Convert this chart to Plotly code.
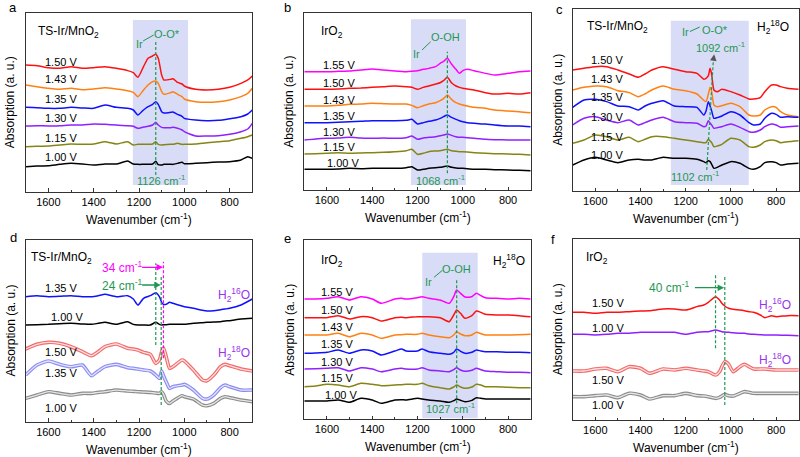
import plotly.graph_objects as go

# ---------------- DATA (wavenumber in cm-1, absorption in arbitrary units incl. offsets) -------------
# Panel a: TS-Ir/MnO2, H2(16)O
a_wn = [1700,1650,1600,1550,1500,1450,1400,1350,1300,1250,1225,1205,1180,1160,1140,1126,1115,1100,1090,1060,1050,1030,1010,1000,950,900,850,800,750,720,700]
a_150 = [380,378,372,370,375,370,372,375,370,363,357,343,375,400,407,412,400,350,335,337,339,328,323,317,307,305,307,313,325,335,347]
a_143 = [320,315,310,307,310,306,308,312,308,303,298,285,305,320,330,332,325,300,292,297,300,292,285,278,270,268,270,275,285,295,310]
a_135 = [253,252,250,250,253,251,250,260,253,250,245,230,245,255,262,270,262,240,236,238,239,232,226,220,215,213,214,219,225,233,245]
a_130 = [197,198,197,198,200,200,203,202,200,198,196,190,194,196,200,208,200,193,192,192,193,190,185,180,167,167,168,172,180,188,205]
a_115 = [135,136,137,140,143,142,143,150,143,150,140,142,142,142,143,150,142,140,141,142,142,145,142,142,143,147,150,153,160,165,170]
a_100 = [75,77,78,82,85,83,80,83,83,92,83,82,82,82,83,91,81,80,82,82,82,85,88,84,85,87,89,90,95,105,100]

# Panel b: IrO2, H2(16)O
b_wn = [1700,1650,1600,1550,1500,1450,1400,1350,1300,1250,1225,1200,1175,1150,1120,1100,1085,1068,1050,1030,1015,1000,980,950,900,860,800,750,700]
b_155 = [355,355,355,356,357,360,363,360,357,355,356,358,362,365,370,380,386,395,378,362,350,358,362,358,350,345,350,355,357]
b_150 = [302,302,302,303,305,306,308,310,312,310,308,302,308,312,318,322,328,338,322,312,308,305,303,300,292,288,290,288,292]
b_143 = [252,252,252,254,257,258,260,259,258,258,254,247,253,258,262,268,274,285,272,262,258,255,252,248,245,240,237,235,232]
b_135 = [202,202,202,203,205,206,208,208,208,209,212,198,202,206,210,215,220,225,218,212,208,205,202,200,198,195,192,192,190]
b_130 = [150,153,155,156,158,156,155,156,155,157,162,152,156,158,160,163,165,168,164,160,158,158,157,155,152,151,150,150,150]
b_115 = [108,109,110,112,110,111,112,113,115,118,122,107,110,115,117,118,120,122,118,116,115,115,114,112,110,109,108,107,105]
b_100 = [62,62,62,63,65,64,65,65,65,67,70,60,62,65,67,68,70,72,68,66,65,65,64,62,62,61,60,59,58]

# Panel c: TS-Ir/MnO2, H2(18)O
c_wn = [1700,1650,1600,1550,1500,1450,1410,1380,1350,1300,1250,1200,1150,1120,1110,1100,1092,1085,1075,1060,1040,1000,960,920,900,870,850,820,800,780,750,700]
c_150 = [363,368,373,373,363,351,341,351,363,373,365,358,353,335,338,345,368,350,303,298,305,298,288,276,276,280,298,318,318,313,308,305]
c_143 = [303,311,315,313,301,295,283,291,303,315,305,301,291,272,268,290,311,298,258,253,256,263,253,228,225,228,243,253,251,238,228,223]
c_135 = [251,273,275,268,255,253,243,255,263,271,255,253,251,228,240,268,255,240,218,220,225,238,228,205,198,201,218,233,230,221,223,221]
c_130 = [198,218,223,213,205,213,198,205,213,221,208,205,203,193,195,211,203,198,188,190,193,201,191,178,176,183,193,201,198,191,193,195]
c_115 = [143,153,168,163,153,161,148,155,163,163,158,153,148,145,145,155,150,145,133,135,140,158,153,133,131,138,148,153,151,145,148,151]
c_100 = [78,93,101,93,85,93,95,93,93,101,98,98,95,88,85,91,88,80,68,71,78,88,83,68,65,73,85,88,85,78,81,83]

# Panel d: TS-Ir/MnO2, H2(16)O vs H2(18)O
d_wn = [1700,1650,1600,1550,1500,1450,1410,1380,1350,1300,1250,1225,1205,1180,1150,1126,1110,1100,1092,1080,1065,1050,1010,1000,960,920,900,870,840,820,800,750,700]
d16_135 = [375,378,375,376,378,375,375,378,382,375,378,368,350,370,378,387,375,358,352,352,358,355,347,345,340,334,332,333,336,338,340,350,368]
d16_100 = [290,291,292,294,295,293,292,295,298,292,300,292,290,290,290,298,292,290,291,291,292,292,292,292,295,297,298,299,300,302,303,308,310]
d18_150 = [218,232,238,235,225,210,198,210,225,233,220,218,215,208,202,175,185,210,222,195,160,165,185,182,155,125,123,140,165,172,168,158,152]
d18_135 = [140,170,182,172,165,170,138,152,165,172,162,160,158,155,152,140,130,152,138,120,100,105,110,112,95,70,68,80,102,110,105,95,95]
d18_100 = [70,80,90,85,80,85,85,88,90,95,92,91,90,89,88,86,85,90,82,62,55,62,78,75,68,50,48,55,70,75,72,65,60]

# Panel e: IrO2, H2(18)O
e_wn = [1700,1650,1600,1550,1500,1450,1400,1360,1300,1270,1250,1200,1180,1150,1100,1060,1040,1027,1010,990,960,940,920,900,850,800,750,700]
e_155 = [360,360,362,367,357,367,360,347,360,362,360,364,367,362,357,347,367,387,377,366,367,377,370,364,362,360,362,360]
e_150 = [304,304,304,310,300,307,304,294,304,305,304,307,307,307,304,292,312,327,317,302,310,324,320,314,312,312,310,307]
e_143 = [252,252,252,257,247,257,252,242,252,253,254,254,257,252,247,244,252,262,255,250,252,260,256,252,252,252,253,254]
e_135 = [197,198,200,207,197,207,204,192,204,210,204,204,210,202,197,194,200,210,203,197,200,207,204,202,202,200,200,199]
e_130 = [150,151,152,154,144,154,150,142,150,152,150,150,154,147,144,142,148,154,147,143,146,152,148,144,142,140,140,139]
e_115 = [97,99,104,102,97,107,104,100,102,103,104,104,107,100,94,90,96,102,96,92,96,104,102,97,97,95,94,94]
e_100 = [54,54,54,57,50,62,57,47,57,58,57,62,60,57,54,50,55,60,56,52,56,64,62,60,60,60,60,60]

# Panel f: IrO2, H2(16)O vs H2(18)O
f_wn = [1700,1650,1600,1550,1500,1450,1400,1360,1300,1250,1200,1150,1120,1100,1068,1050,1040,1027,1010,990,960,940,920,900,870,850,820,800,750,700]
f16_150 = [323,323,320,323,323,325,327,328,333,333,330,340,345,353,370,360,350,342,335,332,330,328,325,323,315,307,313,310,313,313]
f16_100 = [257,257,255,257,260,260,263,263,263,263,257,263,265,265,270,267,265,264,263,262,260,260,258,257,256,255,255,255,254,253]
f18_150 = [147,147,153,155,145,160,155,140,153,150,155,150,147,145,135,145,160,175,167,145,160,167,160,153,153,153,151,150,150,150]
f18_100 = [70,70,73,75,67,80,75,63,73,73,80,73,72,70,65,68,72,77,73,72,80,85,83,80,80,80,80,80,80,80]

x_ticks = [1600, 1400, 1200, 1000, 800]
x_tick_labels = ["1600", "1400", "1200", "1000", "800"]

# ---------------- STYLE ----------------
W, H = 800, 457
FONT = "Liberation Sans, Arial, sans-serif"
RED, ORANGE, BLUE, PURPLE, OLIVE, BLACK, MAGENTA = "#ff1010", "#ff8010", "#1010ff", "#9020ff", "#858515", "#000000", "#ff00ff"
GREEN = "#1e9850"
LBL_PURPLE = "#9933ee"
SHADE = "#d9dcf7"

# panel geometry (px): left, right, top, bottom, y-range top
GEOM = {
    1: (25.7, 252.3, 13.3, 191.7, 535),
    2: (304.3, 530.7, 12.7, 190.0, 532),
    3: (572.7, 798.7, 9.3, 191.0, 545),
    4: (25.7, 252.3, 240.0, 421.7, 545),
    5: (304.3, 530.7, 240.0, 419.0, 537),
    6: (572.7, 798.7, 239.3, 420.0, 542),
}

fig = go.Figure()
annotations = []
shapes = []


def ax(n, kind):
    return kind if n == 1 else f"{kind}{n}"


def add_line(n, wn, y, color, width=1.5):
    fig.add_trace(go.Scatter(x=wn, y=y, mode="lines", xaxis=ax(n, "x"), yaxis=ax(n, "y"),
                             line=dict(color=color, width=width, shape="spline", smoothing=0.6),
                             hoverinfo="skip", showlegend=False))


def add_ring(n, wn, y, color, inner):
    add_line(n, wn, y, color, 3.6)
    add_line(n, wn, y, inner, 1.3)


def txt(n, x, y, text, color="black", size=11, xanchor="center", yanchor="middle"):
    annotations.append(dict(x=x, y=y, xref=ax(n, "x"), yref=ax(n, "y"), text=text, showarrow=False,
                            font=dict(family=FONT, size=size, color=color), xanchor=xanchor, yanchor=yanchor))


def rect(n, x0, x1, y0, y1):
    shapes.append(dict(type="rect", xref=ax(n, "x"), yref=ax(n, "y"), x0=x0, x1=x1, y0=y0, y1=y1,
                       fillcolor=SHADE, line=dict(width=0), layer="below"))


def vline(n, x0, y0, y1, color=GREEN, x1=None):
    shapes.append(dict(type="line", xref=ax(n, "x"), yref=ax(n, "y"), x0=x0, x1=x0 if x1 is None else x1,
                       y0=y0, y1=y1, line=dict(color=color, width=1.2, dash="3px,2px"), layer="above"))


def seg(n, x0, y0, x1, y1, color=GREEN):
    shapes.append(dict(type="line", xref=ax(n, "x"), yref=ax(n, "y"), x0=x0, x1=x1, y0=y0, y1=y1,
                       line=dict(color=color, width=1.0), layer="above"))


def arrow(n, x, y, axv, ayv, color):
    annotations.append(dict(x=x, y=y, ax=axv, ay=ayv, xref=ax(n, "x"), yref=ax(n, "y"),
                            axref=ax(n, "x"), ayref=ax(n, "y"), text="", showarrow=True,
                            arrowhead=2, arrowsize=1, arrowwidth=1.3, arrowcolor=color))


# ---------- panel a ----------
rect(1, 1227, 984, 20, 515)
for y, c in [(a_150, RED), (a_143, ORANGE), (a_135, BLUE), (a_130, PURPLE), (a_115, OLIVE), (a_100, BLACK)]:
    add_line(1, a_wn, y, c)
vline(1, 1126, 50, 455)
for lab, yy in [("1.50 V", 390), ("1.43 V", 338), ("1.35 V", 278), ("1.30 V", 222), ("1.15 V", 160), ("1.00 V", 105)]:
    txt(1, 1545, yy, lab)
txt(1, 1655, 480, "TS-Ir/MnO<sub>2</sub>", size=12, xanchor="left")
txt(1, 1105, 35, "1126 cm<sup>-1</sup>", GREEN)
txt(1, 1200, 443, "Ir", GREEN)
txt(1, 1075, 473, "O-O*", GREEN)
seg(1, 1182, 452, 1135, 470)

# ---------- panel b ----------
rect(2, 1229, 986, 15, 512)
for y, c in [(b_155, MAGENTA), (b_150, RED), (b_143, ORANGE), (b_135, BLUE), (b_130, PURPLE), (b_115, OLIVE), (b_100, BLACK)]:
    add_line(2, b_wn, y, c)
vline(2, 1068, 50, 415)
for lab, yy in [("1.55 V", 375), ("1.50 V", 322), ("1.43 V", 270), ("1.35 V", 222), ("1.30 V", 175), ("1.15 V", 130), ("1.00 V", 80)]:
    txt(2, 1548 if lab != "1.00 V" else 1530, yy, lab)
txt(2, 1634, 475, "IrO<sub>2</sub>", size=12, xanchor="left")
txt(2, 1100, 30, "1068 cm<sup>-1</sup>", GREEN)
txt(2, 1204, 408, "Ir", GREEN)
txt(2, 1078, 460, "O-OH", GREEN)
seg(2, 1180, 420, 1142, 445)

# ---------- panel c ----------
rect(3, 1266, 921, 18, 511)
for y, c in [(c_150, RED), (c_143, ORANGE), (c_135, BLUE), (c_130, PURPLE), (c_115, OLIVE), (c_100, BLACK)]:
    add_line(3, c_wn, y, c)
vline(3, 1107, 63, 400, x1=1077)
arrow(3, 1074, 410, 1077, 395, "#555555")
for lab, yy in [("1.50 V", 393), ("1.43 V", 335), ("1.35 V", 283), ("1.30 V", 223), ("1.15 V", 163), ("1.00 V", 108)]:
    txt(3, 1549, yy, lab)
txt(3, 1645, 493, "TS-Ir/MnO<sub>2</sub>", size=12, xanchor="left")
txt(3, 814, 493, "H<sub>2</sub><sup>18</sup>O", size=12)
txt(3, 1048, 433, "1092 cm<sup>-1</sup>", GREEN)
txt(3, 1158, 45, "1102 cm<sup>-1</sup>", GREEN)
txt(3, 1203, 478, "Ir", GREEN)
txt(3, 1070, 484, "O-O*", GREEN)
seg(3, 1182, 478, 1138, 492)

# ---------- panel d ----------
add_line(4, d_wn, d16_135, BLUE)
add_line(4, d_wn, d16_100, BLACK)
add_ring(4, d_wn, d18_150, "#f26a6a", "#fde0e0")
add_ring(4, d_wn, d18_135, "#8c8cf2", "#e4e4fd")
add_ring(4, d_wn, d18_100, "#8c8c8c", "#e6e6e6")
vline(4, 1126, 230, 475)
vline(4, 1102, 50, 440)
vline(4, 1092, 190, 480, MAGENTA)
for lab, yy in [("1.35 V", 400), ("1.00 V", 315), ("1.50 V", 208), ("1.35 V", 145), ("1.00 V", 40)]:
    txt(4, 1545 if yy != 315 else 1518, yy, lab)
txt(4, 1684, 490, "TS-Ir/MnO<sub>2</sub>", size=12, xanchor="left")
txt(4, 1275, 463, "34 cm<sup>-1</sup>", MAGENTA, 12)
arrow(4, 1094, 463, 1193, 463, MAGENTA)
txt(4, 1275, 410, "24 cm<sup>-1</sup>", GREEN, 12)
arrow(4, 1104, 410, 1193, 410, GREEN)
txt(4, 780, 380, "H<sub>2</sub><sup>16</sup>O", LBL_PURPLE, 12)
txt(4, 780, 205, "H<sub>2</sub><sup>18</sup>O", LBL_PURPLE, 12)

# ---------- panel e ----------
rect(5, 1179, 934, 2, 499)
for y, c in [(e_155, MAGENTA), (e_150, RED), (e_143, ORANGE), (e_135, BLUE), (e_130, PURPLE), (e_115, OLIVE), (e_100, BLACK)]:
    add_line(5, e_wn, y, c)
vline(5, 1027, 47, 422)
for lab, yy in [("1.55 V", 382), ("1.50 V", 327), ("1.43 V", 277), ("1.35 V", 224), ("1.30 V", 172), ("1.15 V", 122), ("1.00 V", 72)]:
    txt(5, 1557 if lab != "1.00 V" else 1540, yy, lab)
txt(5, 1634, 474, "IrO<sub>2</sub>", size=12, xanchor="left")
txt(5, 796, 474, "H<sub>2</sub><sup>18</sup>O", size=12)
txt(5, 1056, 32, "1027 cm<sup>-1</sup>", GREEN)
txt(5, 1152, 412, "Ir", GREEN)
txt(5, 1027, 450, "O-OH", GREEN)
seg(5, 1127, 425, 1090, 446)

# ---------- panel f ----------
add_line(6, f_wn, f16_150, RED)
add_line(6, f_wn, f16_100, PURPLE)
add_ring(6, f_wn, f18_150, "#f26a6a", "#fde0e0")
add_ring(6, f_wn, f18_100, "#8c8c8c", "#e6e6e6")
vline(6, 1068, 215, 435)
vline(6, 1027, 45, 435)
for lab, yy in [("1.50 V", 350), ("1.00 V", 275), ("1.50 V", 120), ("1.00 V", 45)]:
    txt(6, 1542, yy, lab)
txt(6, 1648, 485, "IrO<sub>2</sub>", size=12, xanchor="left")
txt(6, 1276, 400, "40 cm<sup>-1</sup>", GREEN, 12)
arrow(6, 1030, 397, 1166, 397, GREEN)
txt(6, 804, 345, "H<sub>2</sub><sup>16</sup>O", LBL_PURPLE, 12)
txt(6, 804, 180, "H<sub>2</sub><sup>18</sup>O", LBL_PURPLE, 12)

# ---------- axes, titles, panel letters ----------
layout = dict(width=W, height=H, margin=dict(l=0, r=0, t=0, b=0), paper_bgcolor="white",
              plot_bgcolor="white", font=dict(family=FONT, size=11, color="black"))
letters = {1: "a", 2: "b", 3: "c", 4: "d", 5: "e", 6: "f"}
letter_pos = {1: (13, 8), 2: (287, 8), 3: (559, 9), 4: (13, 237), 5: (287, 238), 6: (553, 239)}
for n, (l, r, t, b, ytop) in GEOM.items():
    xa = "xaxis" if n == 1 else f"xaxis{n}"
    ya = "yaxis" if n == 1 else f"yaxis{n}"
    layout[xa] = dict(domain=[l / W, r / W], range=[1700, 700], anchor=ax(n, "y"),
                      tickvals=x_ticks, ticktext=x_tick_labels, ticks="inside", ticklen=3.5,
                      tickcolor="#333", tickwidth=1, showline=True, mirror=True, linecolor="#333",
                      linewidth=1, showgrid=False, zeroline=False,
                      tickfont=dict(family=FONT, size=11, color="black"),
                      minor=dict(tickvals=[1500, 1300, 1100, 900], ticks="inside", ticklen=2,
                                 tickcolor="#333"))
    layout[ya] = dict(domain=[1 - b / H, 1 - t / H], range=[0, ytop], anchor=ax(n, "x"),
                      showticklabels=False, ticks="", showline=True, mirror=True, linecolor="#333",
                      linewidth=1, showgrid=False, zeroline=False)
    annotations.append(dict(x=(l + r) / 2 / W, y=1 - (b + 27) / H, xref="paper", yref="paper",
                            text="Wavenumber (cm<sup>-1</sup>)", showarrow=False,
                            font=dict(family=FONT, size=12), xanchor="center", yanchor="middle"))
    annotations.append(dict(x=(l - 15) / W, y=1 - (t + b) / 2 / H, xref="paper", yref="paper",
                            text="Absorption (a. u.)", textangle=-90, showarrow=False,
                            font=dict(family=FONT, size=12), xanchor="center", yanchor="middle"))
    lx, ly = letter_pos[n]
    annotations.append(dict(x=lx / W, y=1 - ly / H, xref="paper", yref="paper", text=letters[n],
                            showarrow=False, font=dict(family=FONT, size=13), xanchor="center",
                            yanchor="middle"))

layout["annotations"] = annotations
layout["shapes"] = shapes
fig.update_layout(**layout)
fig.write_html("out.html", config={"displayModeBar": False},
               post_script="document.body.style.margin='0';document.body.style.overflow='hidden';")
